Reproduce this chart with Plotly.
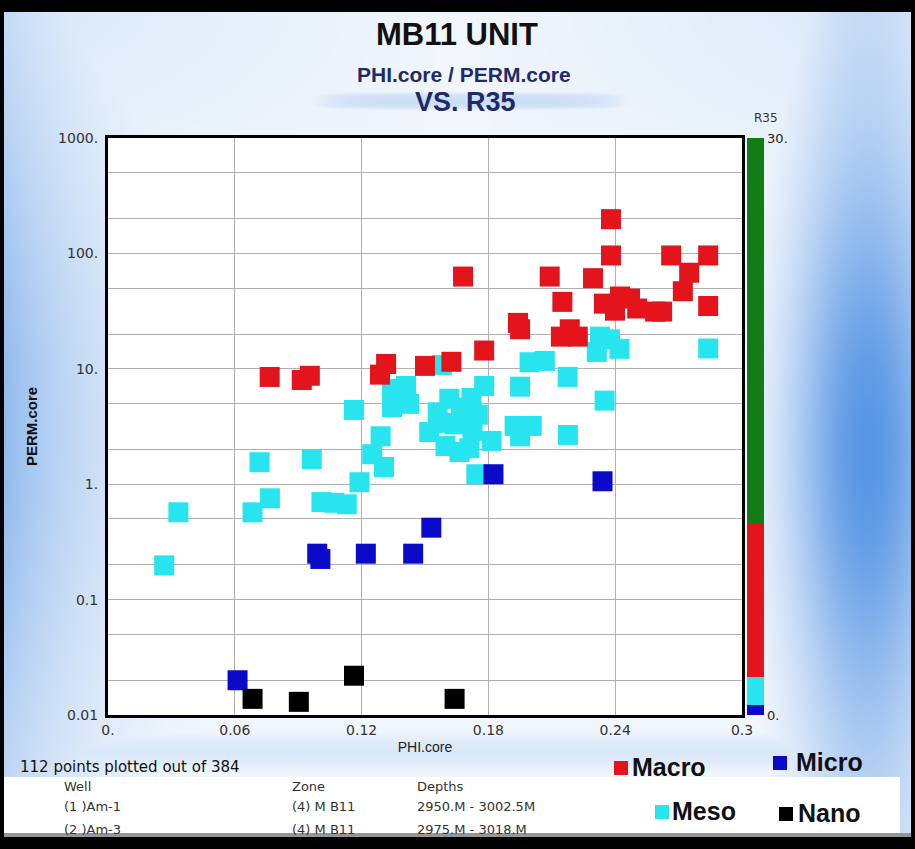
import base64, struct, zlib
import numpy as np
import plotly.graph_objects as go

# ---------------- data ----------------
macro_phi = [0.0765, 0.0917, 0.0955, 0.1287, 0.1316, 0.150, 0.1625, 0.168, 0.178,
             0.194, 0.195, 0.209, 0.215, 0.2143, 0.2185, 0.2223, 0.2295, 0.238, 0.238,
             0.2347, 0.2399, 0.2423, 0.247, 0.2504, 0.2589, 0.2622,
             0.2665, 0.284, 0.275, 0.272, 0.284]
macro_perm = [8.5, 8.0, 8.7, 8.9, 11.0, 10.6, 11.5, 63, 14.4,
              25, 22, 63, 38, 19, 22, 19, 61, 198, 96,
              36.7, 31.9, 42.3, 40.6, 33.3, 31.3, 31.3,
              96, 96, 68, 47, 35]

meso_phi = [0.0266, 0.0333, 0.0684, 0.0766, 0.0717, 0.0964, 0.101, 0.107, 0.113,
            0.1164, 0.119, 0.125, 0.129, 0.1306, 0.1344, 0.141, 0.1344, 0.1425,
            0.158, 0.178, 0.1615, 0.172, 0.156, 0.167, 0.175, 0.152, 0.1725,
            0.1597, 0.1663, 0.171, 0.1815, 0.1743, 0.1924, 0.2005, 0.195, 0.195,
            0.1995, 0.2067, 0.2175, 0.235, 0.2176, 0.2328, 0.2313, 0.242, 0.2375,
            0.284, 0.164, 0.158, 0.169]
meso_perm = [0.198, 0.571, 0.57, 0.755, 1.55, 1.65, 0.70, 0.69, 0.67,
             4.4, 1.04, 1.82, 2.6, 1.41, 6.7, 7.1, 4.65, 4.97,
             10.8, 7.1, 5.5, 5.6, 4.2, 4.0, 4.0, 2.83, 2.9,
             2.14, 1.9, 2.05, 2.37, 1.22, 3.2, 3.2, 2.6, 7.0,
             11.4, 11.7, 8.5, 5.3, 2.67, 19, 14, 14.9, 18,
             15, 3.3, 3.4, 4.6]

micro_phi = [0.0613, 0.099, 0.1005, 0.122, 0.1444, 0.153, 0.1824, 0.234]
micro_perm = [0.020, 0.25, 0.225, 0.25, 0.25, 0.42, 1.22, 1.06]

nano_phi = [0.0684, 0.0903, 0.1164, 0.164]
nano_perm = [0.0138, 0.013, 0.0219, 0.0138]

x_ticks = [0, 0.06, 0.12, 0.18, 0.24, 0.3]
x_ticktext = ["0.", "0.06", "0.12", "0.18", "0.24", "0.3"]
y_grid = [0.01, 0.02, 0.05, 0.1, 0.2, 0.5, 1, 2, 5, 10, 20, 50, 100, 200, 500, 1000]
y_ticktext = ["0.01", "", "", "0.1", "", "", "1.", "", "", "10.", "", "", "100.", "", "", "1000."]

r35_bounds = [0, 0.5, 2, 10, 30]
r35_colors = ["#0a0ac8", "#28e4ee", "#e3141c", "#127d16"]

wells = ["(1 )Am-1", "(2 )Am-3"]
zones = ["(4) M B11", "(4) M B11"]
depths = ["2950.M - 3002.5M", "2975.M - 3018.M"]

# ---------------- geometry helpers ----------------
W, H = 915, 849
ML, MR, MT, MB = 108, 173, 138, 134
PW, PH = W - ML - MR, H - MT - MB


def px_x(px):
    return (px - ML) / PW


def px_y(py):
    return 1 - (py - MT) / PH


FONT = "Liberation Sans, Arial, sans-serif"
WIDE = "DejaVu Sans, Liberation Sans, sans-serif"

# ---------------- background gradient image ----------------
Xg = np.arange(W)[None, :] + 0.5
Yg = np.arange(H)[:, None] + 0.5
fv_r = 0.3 + 0.7 * np.exp(-((Yg - 450) / 260) ** 2)
tr = np.exp(-((Xg - 868) / 80) ** 2) * fv_r
fv_l = 0.45 + 0.55 * np.exp(-((Yg - 430) / 300) ** 2)
tl = 0.68 * np.exp(-Xg / 120) * fv_l
tb = 0.22 * np.exp(-((Yg - 752) / 22) ** 2) * np.ones_like(Xg)
tbase = 0.08 + 0.14 * np.exp(-((Yg - 0) / 160) ** 2) * (np.abs(Xg - 457) / 457)
band = 0.30 * np.exp(-((Yg - 101) / 9) ** 4) * np.exp(-((Xg - 470) / 160) ** 8)
t = np.maximum.reduce([tr, tl, tb, tbase * np.ones_like(Xg), band])
t = np.clip(t, 0, 1)
deep = np.array([88, 150, 228], dtype=float)
img = 255 - t[..., None] * (255 - deep)[None, None, :]
# white plot area and table area
img[MT:H - MB, ML:W - MR] = 255
img[777:833, 4:900] = 255
# frame
img[833:837, :] = [150, 150, 150]
img[:12, :] = 0
img[837:, :] = 0
img[:, :4] = 0
img[:, 911:] = 0
img = img.astype(np.uint8)


def png_uri(arr):
    h, w, _ = arr.shape
    raw = b"".join(b"\x00" + arr[i].tobytes() for i in range(h))

    def chunk(tag, data):
        return (struct.pack(">I", len(data)) + tag + data
                + struct.pack(">I", zlib.crc32(tag + data) & 0xFFFFFFFF))

    png = (b"\x89PNG\r\n\x1a\n"
           + chunk(b"IHDR", struct.pack(">IIBBBBB", w, h, 8, 2, 0, 0, 0))
           + chunk(b"IDAT", zlib.compress(raw, 9))
           + chunk(b"IEND", b""))
    return "data:image/png;base64," + base64.b64encode(png).decode()


# ---------------- figure ----------------
fig = go.Figure()

series = [
    ("Meso", meso_phi, meso_perm, "#28e4ee"),
    ("Macro", macro_phi, macro_perm, "#e3141c"),
    ("Micro", micro_phi, micro_perm, "#0a0ac8"),
    ("Nano", nano_phi, nano_perm, "#000000"),
]
for name, xs, ys, col in series:
    fig.add_trace(go.Scatter(
        x=xs, y=ys, mode="markers", name=name, showlegend=False,
        marker=dict(symbol="square", size=20, color=col, line=dict(width=0)),
    ))

# colour bar for R35 (discrete classes)
cs = []
for i, c in enumerate(r35_colors):
    cs.append([r35_bounds[i] / r35_bounds[-1], c])
    cs.append([r35_bounds[i + 1] / r35_bounds[-1], c])
fig.add_trace(go.Scatter(
    x=[None], y=[None], mode="markers", showlegend=False, hoverinfo="skip",
    marker=dict(color=[r35_bounds[0]], cmin=r35_bounds[0], cmax=r35_bounds[-1],
                colorscale=cs, showscale=True,
                colorbar=dict(x=px_x(747), xanchor="left", y=0.5, yanchor="middle",
                              len=1, lenmode="fraction", thickness=17,
                              xpad=0, ypad=0, outlinewidth=0,
                              tickvals=[r35_bounds[0], r35_bounds[-1]],
                              ticktext=["0.", "30."], ticks="",
                              tickfont=dict(family=WIDE, size=13, color="#222"))),
))

fig.update_xaxes(
    range=[0, 0.3], tickvals=x_ticks, ticktext=x_ticktext,
    showgrid=True, gridcolor="#b0b0b0", gridwidth=1, zeroline=False,
    showline=True, linecolor="black", linewidth=3, mirror=True, ticks="",
    tickfont=dict(family=WIDE, size=14, color="#333"),
    title=dict(text="PHI.core", font=dict(family=FONT, size=14, color="#222"), standoff=6),
)
fig.update_yaxes(
    type="log", range=[-2, 3], tickvals=y_grid, ticktext=y_ticktext,
    showgrid=True, gridcolor="#b0b0b0", gridwidth=1, zeroline=False,
    showline=True, linecolor="black", linewidth=3, mirror=True,
    ticks="outside", ticklen=4, tickcolor="rgba(0,0,0,0)",
    tickfont=dict(family=WIDE, size=14, color="#333"),
    title=dict(text="<b>PERM.core</b>", font=dict(family=FONT, size=15, color="#111"), standoff=17),
)

ann = []


def add_text(text, x, y, size, color="#222", bold=False, xanchor="center", angle=0, family=FONT):
    ann.append(dict(text=f"<b>{text}</b>" if bold else text, x=px_x(x), y=px_y(y),
                    xref="paper", yref="paper", showarrow=False, xanchor=xanchor,
                    yanchor="middle", textangle=angle,
                    font=dict(family=family, size=size, color=color)))


add_text("MB11 UNIT", 457, 35, 31, "#111", True)
add_text("PHI.core / PERM.core", 464, 74, 21, "#1f2a6b", True)
add_text("VS. R35", 465, 102, 27, "#1f2a6b", True)
add_text("R35", 766, 118, 12, "#333", family=WIDE)
add_text("112 points plotted out of 384", 18, 767, 15, "#111", xanchor="left", family=WIDE)
add_text("Well", 62, 786, 13, "#333", xanchor="left", family=WIDE)
add_text("Zone", 290, 786, 13, "#333", xanchor="left", family=WIDE)
add_text("Depths", 415, 786, 13, "#333", xanchor="left", family=WIDE)
for i in range(len(wells)):
    yy = 806 + 23 * i
    add_text(wells[i], 62, yy, 13, "#333", xanchor="left", family=WIDE)
    add_text(zones[i], 290, yy, 13, "#333", xanchor="left", family=WIDE)
    add_text(depths[i], 415, yy, 13, "#333", xanchor="left", family=WIDE)

# legend (custom, 2x2)
legend_items = [("Macro", "#e3141c", 614, 630, 767), ("Micro", "#0a0ac8", 773, 794, 762),
                ("Meso", "#28e4ee", 655, 670, 811), ("Nano", "#000000", 779, 796, 813)]
shapes = []
for name, col, sq_x, tx, ty in legend_items:
    shapes.append(dict(type="rect", xref="paper", yref="paper",
                       x0=px_x(sq_x), x1=px_x(sq_x + 14), y0=px_y(ty + 8), y1=px_y(ty - 6),
                       fillcolor=col, line=dict(width=0)))
    add_text(name, tx, ty, 25, "#111", True, xanchor="left")

fig.update_layout(
    width=W, height=H,
    margin=dict(l=ML, r=MR, t=MT, b=MB, autoexpand=False),
    paper_bgcolor="white", plot_bgcolor="rgba(0,0,0,0)",
    annotations=ann, shapes=shapes,
    images=[dict(source=png_uri(img), xref="paper", yref="paper",
                 x=px_x(0), y=px_y(0), sizex=W / PW, sizey=H / PH,
                 xanchor="left", yanchor="top", sizing="stretch", layer="below")],
    font=dict(family=FONT),
)

fig.write_html("out.html", config={"displayModeBar": False},
               post_script="document.body.style.margin='0';document.body.style.overflow='hidden';")
